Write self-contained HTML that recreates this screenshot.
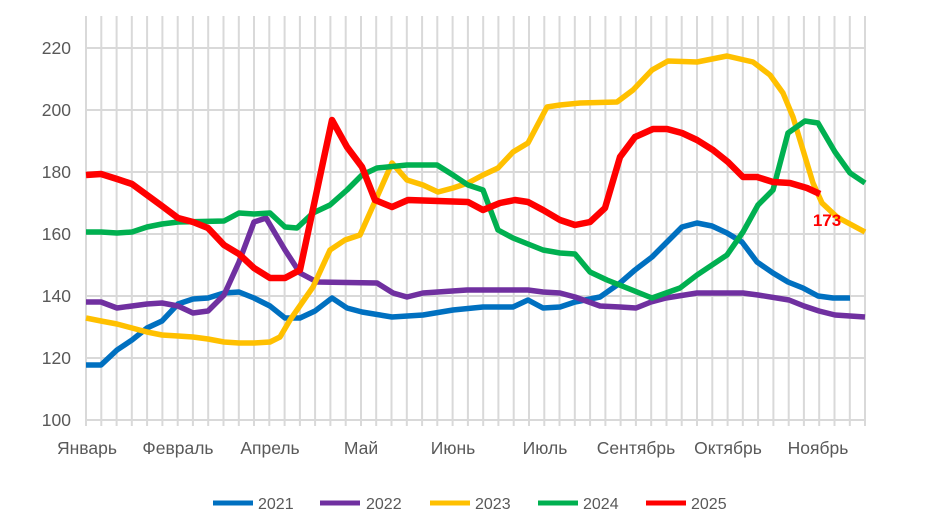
<!DOCTYPE html>
<html><head><meta charset="utf-8"><style>
html,body{margin:0;padding:0;background:#fff}
svg{display:block;font-family:"Liberation Sans",sans-serif}
</style></head><body>
<svg width="925" height="531" viewBox="0 0 925 531">
<g stroke="#d9d9d9" stroke-width="2">
<line x1="86" y1="48" x2="865" y2="48"/><line x1="86" y1="110" x2="865" y2="110"/><line x1="86" y1="172" x2="865" y2="172"/><line x1="86" y1="234" x2="865" y2="234"/><line x1="86" y1="296" x2="865" y2="296"/><line x1="86" y1="358" x2="865" y2="358"/><line x1="86" y1="420" x2="865" y2="420"/>
</g>
<path stroke="#d9d9d9" stroke-width="2" d="M86.0 16V426M101.3 16V426M116.6 16V426M131.8 16V426M147.1 16V426M162.4 16V426M177.7 16V426M192.9 16V426M208.2 16V426M223.5 16V426M238.8 16V426M254.0 16V426M269.3 16V426M284.6 16V426M299.9 16V426M315.1 16V426M330.4 16V426M345.7 16V426M361.0 16V426M376.2 16V426M391.5 16V426M406.8 16V426M422.1 16V426M437.3 16V426M452.6 16V426M467.9 16V426M483.2 16V426M498.4 16V426M513.7 16V426M529.0 16V426M544.3 16V426M559.5 16V426M574.8 16V426M590.1 16V426M605.4 16V426M620.6 16V426M635.9 16V426M651.2 16V426M666.5 16V426M681.7 16V426M697.0 16V426M712.3 16V426M727.6 16V426M742.8 16V426M758.1 16V426M773.4 16V426M788.7 16V426M803.9 16V426M819.2 16V426M834.5 16V426M849.8 16V426M865.0 16V426"/>
<g font-size="17.5" fill="#595959" text-anchor="end">
<text x="71" y="54">220</text><text x="71" y="116">200</text><text x="71" y="178">180</text><text x="71" y="240">160</text><text x="71" y="302">140</text><text x="71" y="364">120</text><text x="71" y="426">100</text>
</g>
<g font-size="17.5" fill="#595959" text-anchor="middle">
<text x="87" y="454">Январь</text><text x="178" y="454">Февраль</text><text x="270" y="454">Апрель</text><text x="361" y="454">Май</text><text x="453" y="454">Июнь</text><text x="545" y="454">Июль</text><text x="636" y="454">Сентябрь</text><text x="728" y="454">Октябрь</text><text x="818" y="454">Ноябрь</text>
</g>
<g fill="none" stroke-linejoin="round" stroke-width="5.5">
<polyline stroke="#0070c0" points="86,365 101,365 117,350 132,340 147,328 162,321 178,304 193,299 208,298 224,293 239,292 254,298 270,306 285,318 300,318 315,311 332,298 347,308 362,312 392,317 423,315 453,310 483,307 513,307 528,300 543,308 560,307 575,302 600,297 620,283 635,270 652,257 667,242 682,227 697,223 712,226 727,233 742,242 757,262 773,273 788,282 803,288 818,296 833,298 850,298"/>
<polyline stroke="#7030a0" points="86,302 101,302 117,308 132,306 147,304 162,303 178,306 193,313 208,311 224,295 239,262 254,222 266,218 285,250 300,273 317,282 377,283 393,293 407,297 423,293 467,290 528,290 543,292 560,293 575,297 600,306 620,307 636,308 651,302 666,298 697,293 743,293 758,295 789,300 804,306 819,311 835,315 850,316 865,317"/>
<polyline stroke="#ffc000" points="86,318 101,321 117,324 132,328 147,332 162,335 178,336 193,337 208,339 224,342 239,343 254,343 270,342 280,337 290,320 313,287 330,250 345,240 360,235 377,197 392,163 407,180 423,185 438,192 453,188 468,183 483,175 498,168 513,152 528,143 547,107 560,105 580,103 617,102 633,90 652,70 668,61 697,62 727,56 753,62 770,75 783,93 793,117 803,150 813,183 822,203 837,217 865,232"/>
<polyline stroke="#00b050" points="86,232 101,232 117,233 132,232 147,227 162,224 178,222 224,221 239,213 254,214 270,213 285,227 297,228 313,213 330,205 347,190 362,175 377,168 407,165 437,165 453,175 468,185 483,190 498,230 513,238 543,250 560,253 575,254 590,272 607,280 652,298 680,288 697,275 727,255 743,232 758,205 773,190 788,133 805,121 818,123 835,152 850,173 865,183"/>
<polyline stroke="#ff0000" stroke-width="6.5" points="86,175 101,174 117,179 132,184 147,195 162,206 178,218 193,222 208,228 224,245 239,254 254,268 270,278 285,278 300,270 332,120 347,147 362,167 375,200 392,207 408,200 438,201 468,202 483,210 500,203 515,200 528,202 543,210 560,220 575,225 590,222 605,208 620,157 635,137 653,129 667,129 682,133 697,140 713,150 728,162 743,177 757,177 773,182 790,183 807,188 820,194"/>
</g>
<text x="827" y="226" font-size="17" font-weight="bold" fill="#ff0000" text-anchor="middle">173</text>
<g stroke-width="5">
<line x1="213" y1="503" x2="253" y2="503" stroke="#0070c0"/><line x1="320" y1="503" x2="360" y2="503" stroke="#7030a0"/><line x1="430" y1="503" x2="470" y2="503" stroke="#ffc000"/><line x1="538" y1="503" x2="578" y2="503" stroke="#00b050"/><line x1="646" y1="503" x2="686" y2="503" stroke="#ff0000"/>
</g>
<g font-size="16" fill="#595959">
<text x="258" y="509">2021</text><text x="366" y="509">2022</text><text x="475" y="509">2023</text><text x="583" y="509">2024</text><text x="691" y="509">2025</text>
</g>
</svg>
</body></html>
